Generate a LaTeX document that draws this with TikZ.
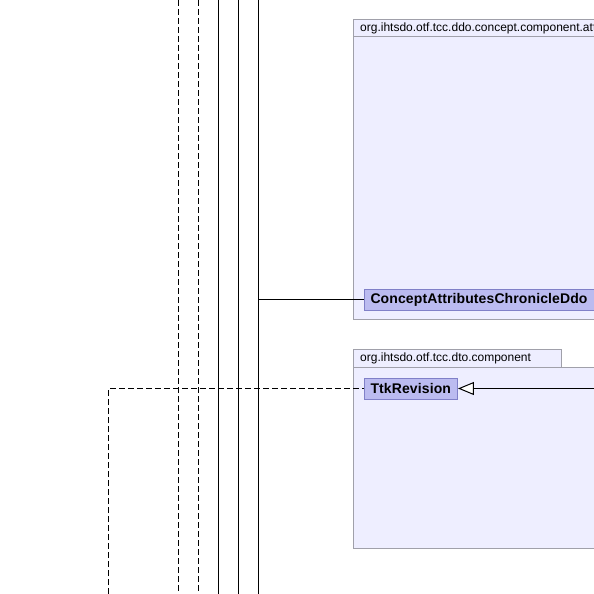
\documentclass[tikz,border=0pt]{standalone}
\usepackage{fontspec}
\setmainfont{Liberation Sans}
\newfontfamily\clsfont[LetterSpace=0.8]{Liberation Sans}
\usetikzlibrary{arrows.meta}
\usetikzlibrary{positioning}

\definecolor{pkgfill}{RGB}{238,238,255}
\definecolor{pkgline}{RGB}{160,160,170}
\definecolor{clsfill}{RGB}{187,187,240}
\definecolor{clsline}{RGB}{128,128,200}

\tikzset{
  pkg/.style={draw=pkgline,fill=pkgfill,line width=1pt},
  pkglabel/.style={anchor=west,inner sep=0pt,font=\fontsize{12}{14}\selectfont},
  cls/.style={draw=clsline,fill=clsfill,line width=1pt,inner xsep=6.5pt,inner ysep=0pt,
    minimum height=21pt,anchor=west,font=\clsfont\fontsize{14}{16}\selectfont\bfseries},
  dep/.style={dash pattern=on 6pt off 3pt,line width=1pt},
  assoc/.style={line width=1pt}
}

\begin{document}
\begin{tikzpicture}[x=1pt,y=-1pt]
\useasboundingbox (0,0) rectangle (594,594);
\clip (0,0) rectangle (594,594);
% lines coming down from above
\coordinate (d1) at (178,0);
\coordinate (d2) at (198,0);
\coordinate (s1) at (218,0);
\coordinate (s2) at (238,0);
\coordinate (s3) at (258,0);
\draw [dep] (d1) -- (178,594);
\draw [dep] (d2) -- (198,594);
\draw [assoc] (s1) -- (218,594);
\draw [assoc] (s2) -- (238,594);
\draw [assoc] (s3) -- (258,594);
% package org.ihtsdo.otf.tcc.ddo.concept.component.attribute
\draw [pkg] (353.5,19.5) rectangle (600,36.5);
\draw [pkg] (353.5,36.5) rectangle (600,319.5);
\node (ddolabel) [pkglabel] at (360,28) {org.ihtsdo.otf.tcc.ddo.concept.component.attribute};
\node (cacd) [cls] at (363.5,299.5) {ConceptAttributesChronicleDdo};
\coordinate (s3out) at (258,299.5);
\draw [assoc] (s3out) -- (cacd.west);
% package org.ihtsdo.otf.tcc.dto.component
\draw [pkg] (353.5,349.5) rectangle (561.5,367.5);
\draw [pkg] (353.5,367.5) rectangle (600,548.5);
\node (dtolabel) [pkglabel] at (360,358.5) {org.ihtsdo.otf.tcc.dto.component};
\node (ttk) [cls] at (363.5,388.5) {TtkRevision};
\coordinate (depstart) at (108.5,594);
\coordinate (depcorner) at (108.5,388.5);
\coordinate (genstart) at (600,388.5);
\draw [dep] (depstart) -- (depcorner) -- (ttk.west);
\draw [assoc,-{Triangle[open,length=16pt,width=13pt,fill=white]}] (genstart) -- (ttk.east);
\end{tikzpicture}
\end{document}
